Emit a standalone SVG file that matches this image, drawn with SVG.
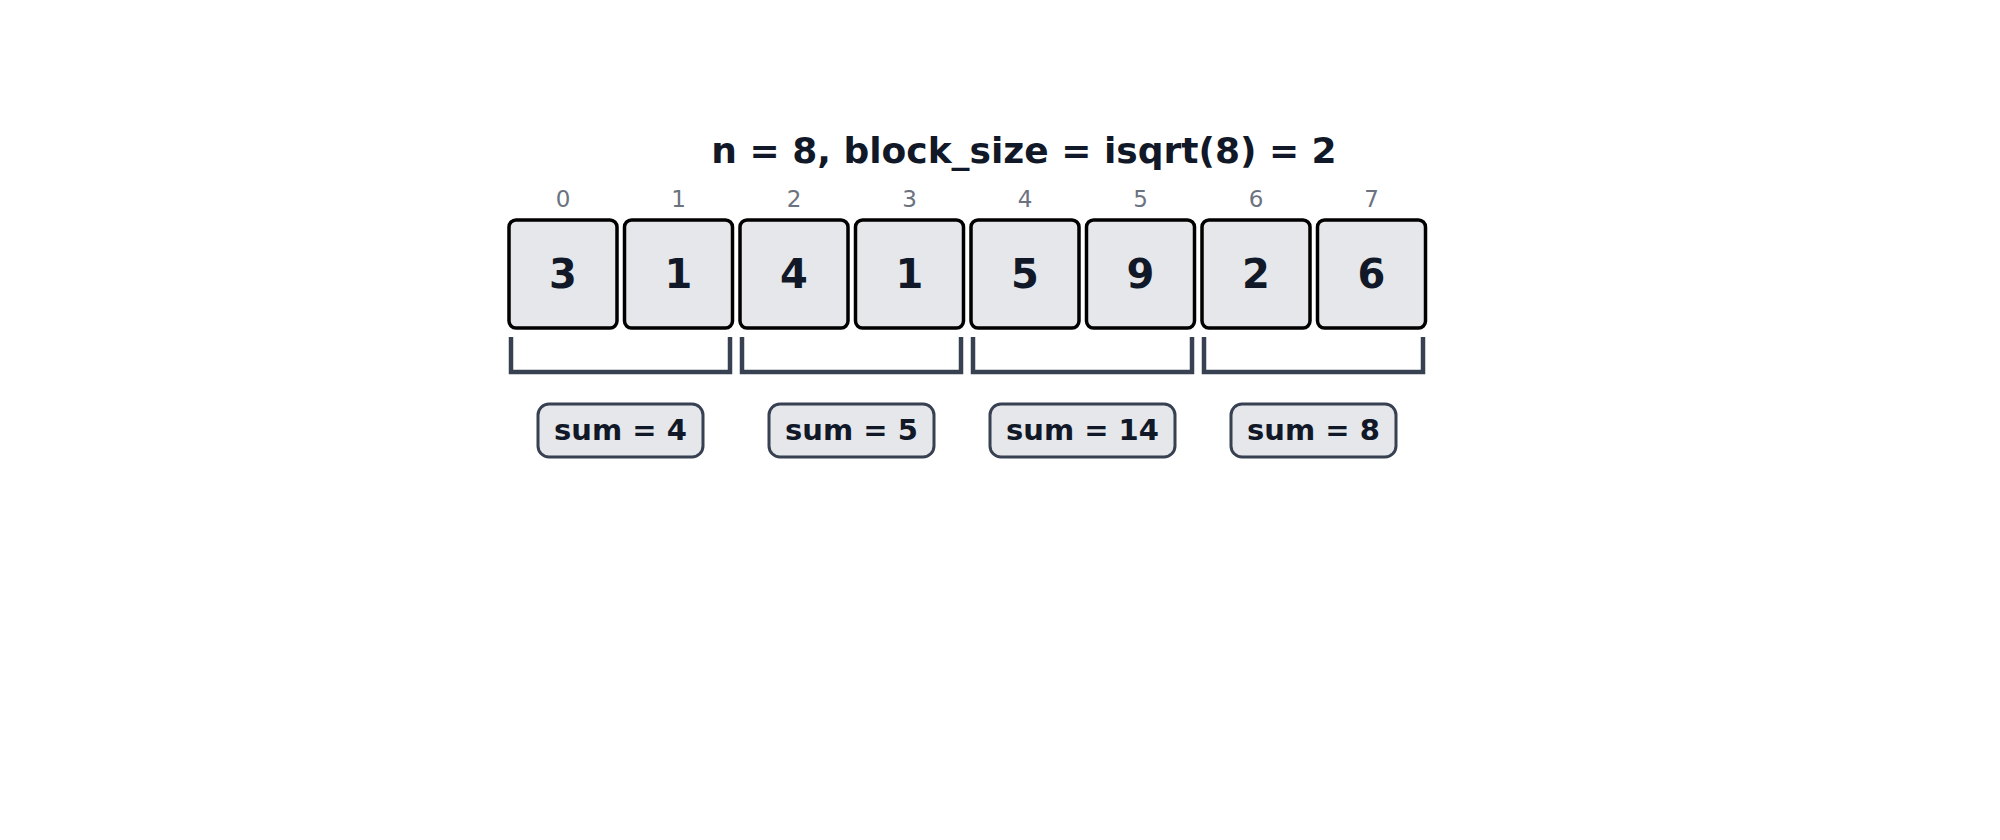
<svg xmlns="http://www.w3.org/2000/svg" width="2000" height="840" viewBox="0 0 2000 840">
<style>
text{font-family:"DejaVu Sans","Noto Sans",sans-serif;text-anchor:middle}
.cell{fill:#e5e7eb;stroke:#000;stroke-width:3.5}
.val{font-size:40px;font-weight:bold;fill:#111827}
.idx{font-size:23px;fill:#6b7280}
.br{fill:none;stroke:#374151;stroke-width:4.5}
.sb{fill:#e5e7eb;stroke:#374151;stroke-width:3}
.st{font-size:29px;font-weight:bold;fill:#111827}
.title{font-size:36px;font-weight:bold;fill:#111827}
</style>
<rect width="2000" height="840" fill="#fff"/>
<text class="title" x="1024" y="163">n = 8, block_size = isqrt(8) = 2</text>
<g id="c0"><text class="idx" x="563" y="207">0</text><rect class="cell" x="509" y="220" width="108" height="108" rx="7"/><text class="val" x="563" y="288">3</text></g>
<g id="c1"><text class="idx" x="678.5" y="207">1</text><rect class="cell" x="624.5" y="220" width="108" height="108" rx="7"/><text class="val" x="678.5" y="288">1</text></g>
<g id="c2"><text class="idx" x="794" y="207">2</text><rect class="cell" x="740" y="220" width="108" height="108" rx="7"/><text class="val" x="794" y="288">4</text></g>
<g id="c3"><text class="idx" x="909.5" y="207">3</text><rect class="cell" x="855.5" y="220" width="108" height="108" rx="7"/><text class="val" x="909.5" y="288">1</text></g>
<g id="c4"><text class="idx" x="1025" y="207">4</text><rect class="cell" x="971" y="220" width="108" height="108" rx="7"/><text class="val" x="1025" y="288">5</text></g>
<g id="c5"><text class="idx" x="1140.5" y="207">5</text><rect class="cell" x="1086.5" y="220" width="108" height="108" rx="7"/><text class="val" x="1140.5" y="288">9</text></g>
<g id="c6"><text class="idx" x="1256" y="207">6</text><rect class="cell" x="1202" y="220" width="108" height="108" rx="7"/><text class="val" x="1256" y="288">2</text></g>
<g id="c7"><text class="idx" x="1371.5" y="207">7</text><rect class="cell" x="1317.5" y="220" width="108" height="108" rx="7"/><text class="val" x="1371.5" y="288">6</text></g>
<g id="connectors">
<path class="br" d="M511 337V372H730V337"/>
<path class="br" d="M742 337V372H961V337"/>
<path class="br" d="M973 337V372H1192V337"/>
<path class="br" d="M1204 337V372H1423V337"/>
</g>
<g id="s0"><rect class="sb" x="538" y="404" width="165" height="53" rx="11"/><text class="st" x="620.5" y="440">sum = 4</text></g>
<g id="s1"><rect class="sb" x="769" y="404" width="165" height="53" rx="11"/><text class="st" x="851.5" y="440">sum = 5</text></g>
<g id="s2"><rect class="sb" x="990" y="404" width="185" height="53" rx="11"/><text class="st" x="1082.5" y="440">sum = 14</text></g>
<g id="s3"><rect class="sb" x="1231" y="404" width="165" height="53" rx="11"/><text class="st" x="1313.5" y="440">sum = 8</text></g>
</svg>
